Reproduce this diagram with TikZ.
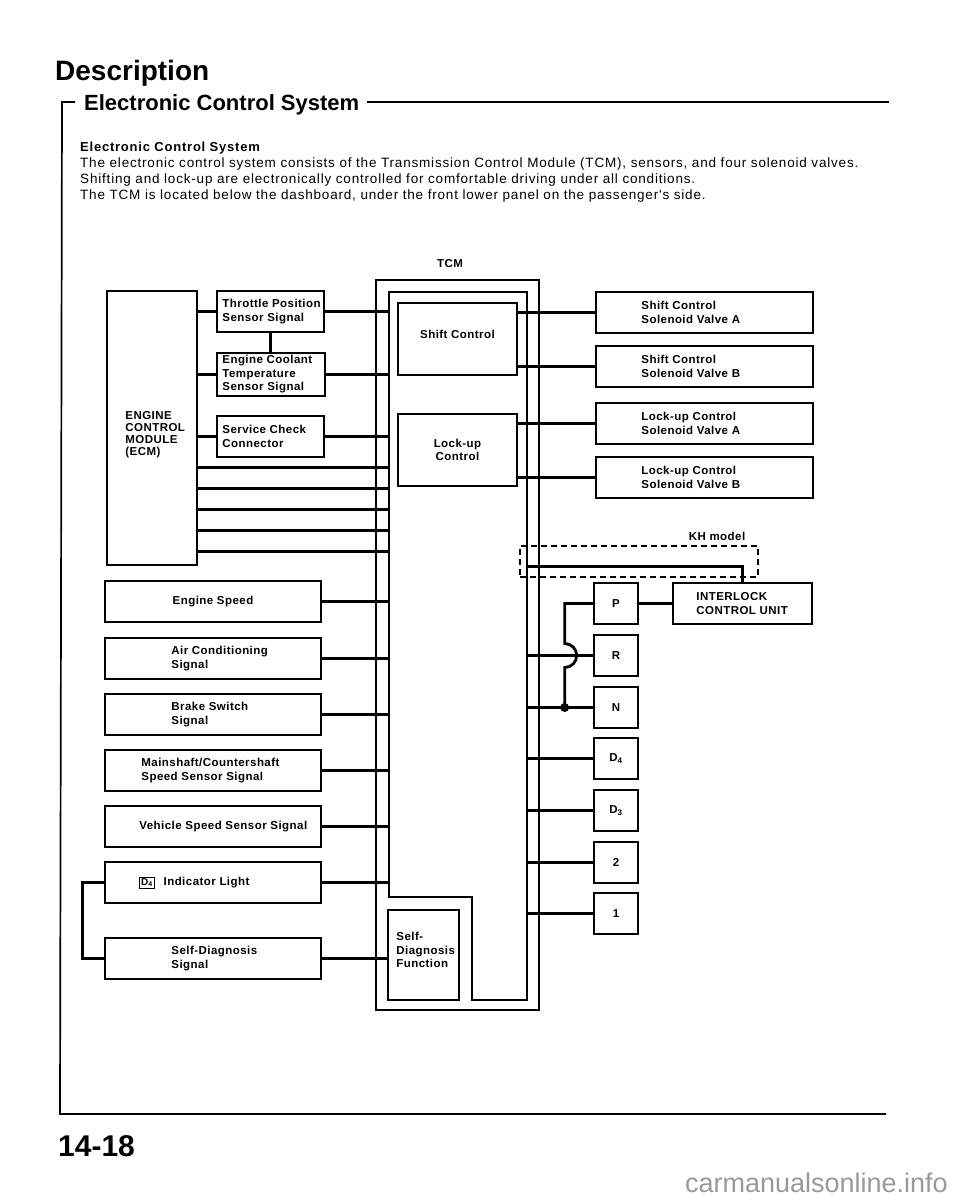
\documentclass[tikz,border=0pt]{standalone}
\usepackage{fontspec}
\setmainfont{Liberation Sans}
\newfontfamily\lblfont[LetterSpace=4]{Liberation Sans}
\newfontfamily\txtfont[LetterSpace=6]{Liberation Sans}
\newcommand\boxfont{\lblfont\bfseries\fontsize{11.5}{13.5}\selectfont}
\newcommand\dfour{{\setlength\fboxsep{1.2pt}\setlength\fboxrule{0.6pt}\fbox{\fontsize{10}{10}\selectfont D\textsubscript{4}}}}

\begin{document}
\begin{tikzpicture}[x=1pt, y=-1pt,
    box/.style={draw, line width=1.6pt, inner sep=0pt, minimum height=41pt, font=\boxfont, align=center},
    txt/.style={anchor=west, inner sep=0pt, align=left, font=\boxfont},
    gear/.style={box, minimum width=44pt},
    wire/.style={line width=2.8pt},
    frame/.style={line width=1.7pt}
]
\path[fill=white] (0,0) rectangle (960,1200);

% Header
\node[anchor=base west, inner sep=0pt, font=\bfseries\fontsize{28}{30}\selectfont] (desc) at (55,80) {Description};
\node[anchor=base west, inner sep=0pt, font=\bfseries\fontsize{22}{24}\selectfont] (ecs) at (84,110) {Electronic Control System};
\coordinate (fr) at (62,102);
\draw[frame] (75,102) -- (fr) -- (60,1114) -- (886,1114);
\draw[frame] ([xshift=8pt]ecs.east |- fr) -- (889,102);

\node[anchor=base west, inner sep=0pt, font=\txtfont\bfseries\fontsize{13}{16}\selectfont] (hd) at (80,151) {Electronic Control System};
\node[anchor=base west, inner sep=0pt, font=\txtfont\fontsize{13.5}{16}\selectfont] (l1) at (80,167) {The electronic control system consists of the Transmission Control Module (TCM), sensors, and four solenoid valves.};
\node[anchor=base west, inner sep=0pt, font=\txtfont\fontsize{13.5}{16}\selectfont] (l2) at (80,183) {Shifting and lock-up are electronically controlled for comfortable driving under all conditions.};
\node[anchor=base west, inner sep=0pt, font=\txtfont\fontsize{13.5}{16}\selectfont] (l3) at (80,199) {The TCM is located below the dashboard, under the front lower panel on the passenger's side.};

% ECM and its sensors
\node[box, minimum width=90pt, minimum height=274pt, label={[txt, xshift=19pt, yshift=-7pt, font=\lblfont\bfseries\fontsize{11.5}{12}\selectfont]west:{ENGINE\\CONTROL\\MODULE\\(ECM)}}] (ecm) at (152,428) {};
\node[box, minimum width=107pt, label={[txt, xshift=6pt]west:{Throttle Position\\Sensor Signal}}] (tps) at (270.5,311.5) {};
\node[box, minimum width=108pt, minimum height=43pt, label={[txt, xshift=6pt]west:{Engine Coolant\\Temperature\\Sensor Signal}}] (ect) at (271,374.5) {};
\node[box, minimum width=107pt, label={[txt, xshift=6pt]west:{Service Check\\Connector}}] (scc) at (270.5,436.5) {};

% Input signals
\node[box, minimum width=216pt] (es) at (213,601.5) {Engine Speed};
\node[box, minimum width=216pt, label={[txt, xshift=67pt]west:{Air Conditioning\\Signal}}] (ac) at (213,658.5) {};
\node[box, minimum width=216pt, label={[txt, xshift=67pt]west:{Brake Switch\\Signal}}] (bs) at (213,714.5) {};
\node[box, minimum width=216pt, label={[txt, xshift=37pt]west:{Mainshaft/Countershaft\\Speed Sensor Signal}}] (mcs) at (213,770.5) {};
\node[box, minimum width=216pt, label={[txt, xshift=35pt]west:{Vehicle Speed Sensor Signal}}] (vss) at (213,826.5) {};
\node[box, minimum width=216pt, label={[txt, xshift=35pt]west:{\dfour\hspace{9pt}Indicator Light}}] (ind) at (213,882.5) {};
\node[box, minimum width=216pt, label={[txt, xshift=67pt]west:{Self-Diagnosis\\Signal}}] (sds) at (213,958.5) {};

% TCM
\node[font=\boxfont, anchor=base] (tcmlbl) at (450,267) {TCM};
\node[draw, line width=2.6pt, minimum width=163pt, minimum height=730pt, inner sep=0pt] (tcm) at (457.5,645) {};
\coordinate (inl) at (389,292);
\coordinate (inr) at (527,292);
\draw[line width=1.3pt] (inl) -| (527,1000) -- (472,1000) |- (389,897) -- cycle;
\node[box, minimum width=119pt, minimum height=72pt, label={[font=\boxfont, yshift=5pt]center:Shift Control}] (sc) at (457.5,339) {};
\node[box, minimum width=119pt, minimum height=72pt] (lu) at (457.5,450) {Lock-up\\Control};
\node[box, minimum width=71pt, minimum height=90pt, label={[txt, xshift=9pt, yshift=5pt]west:{Self-\\Diagnosis\\Function}}] (sdf) at (423.5,955) {};

% Solenoid valves
\node[box, minimum width=217pt, label={[txt, xshift=46pt]west:{Shift Control\\Solenoid Valve A}}] (sva) at (704.5,312.5) {};
\node[box, minimum width=217pt, label={[txt, xshift=46pt]west:{Shift Control\\Solenoid Valve B}}] (svb) at (704.5,366.5) {};
\node[box, minimum width=217pt, label={[txt, xshift=46pt]west:{Lock-up Control\\Solenoid Valve A}}] (lva) at (704.5,423.5) {};
\node[box, minimum width=217pt, label={[txt, xshift=46pt]west:{Lock-up Control\\Solenoid Valve B}}] (lvb) at (704.5,477.5) {};

% KH model
\node[font=\boxfont, anchor=base] (khlbl) at (717,540) {KH model};
\node[draw, dash pattern=on 6pt off 4pt, line width=1.2pt, minimum width=238pt, minimum height=31pt, inner sep=0pt] (kh) at (639,561.5) {};
\node[box, minimum width=139pt, label={[txt, xshift=24pt]west:{INTERLOCK\\CONTROL UNIT}}] (icu) at (742.5,603.5) {};

% Shift lever positions
\node[gear] (p) at (616,603.5) {P};
\node[gear] (r) at (616,655.5) {R};
\node[gear] (n) at (616,707.5) {N};
\node[gear] (dfour) at (616,758.5) {D\textsubscript{4}};
\node[gear] (dthree) at (616,810.5) {D\textsubscript{3}};
\node[gear] (two) at (616,862.5) {2};
\node[gear] (one) at (616,913.5) {1};

% Wires
\draw[wire] (tps.west -| ecm.east) -- (tps.west);
\draw[wire] (ect.west -| ecm.east) -- (ect.west);
\draw[wire] (scc.west -| ecm.east) -- (scc.west);
\draw[wire] (tps.south) -- (tps.south |- ect.north);
\foreach \y in {467.5,488.5,509.5,530.5,551.5} {
  \coordinate (yy) at (0,\y);
  \draw[wire] (ecm.east |- yy) -- (inl |- yy);
}
\foreach \n in {tps,ect,scc,es,ac,bs,mcs,vss,ind}
  \draw[wire] (\n.east) -- (\n.east -| inl);
\draw[wire] (sds.east) -- (sds.east -| sdf.west);
\draw[wire] (ind.west) -- ++(-22,0) |- (sds.west);

\draw[wire] (sva.west -| sc.east) -- (sva.west);
\draw[wire] (svb.west -| sc.east) -- (svb.west);
\draw[wire] (lva.west -| lu.east) -- (lva.west);
\draw[wire] (lvb.west -| lu.east) -- (lvb.west);

\coordinate (kht) at (742.5,566.5);
\draw[wire] (kht -| inr) -- (kht) -- (kht |- icu.north);

\foreach \n in {r,n,dfour,dthree,two,one}
  \draw[wire] (\n.west -| inr) -- (\n.west);
\draw[wire] (p.east) -- (p.east -| icu.west);
\draw[wire] (p.west) -- ++(-28.5,0) coordinate (pk) -- ++(0,40) arc[start angle=90, end angle=-90, radius=12pt] -- (pk |- n.west);
\fill (pk |- n.west) circle[radius=4.5pt];

% Footer
\node[anchor=base west, inner sep=0pt, font=\bfseries\fontsize{30}{32}\selectfont] (pg) at (58,1156) {14-18};
\node[anchor=base east, inner sep=0pt, font=\fontsize{27}{30}\selectfont, text=black!40] (web) at (948,1192) {carmanualsonline.info};
\end{tikzpicture}
\end{document}
